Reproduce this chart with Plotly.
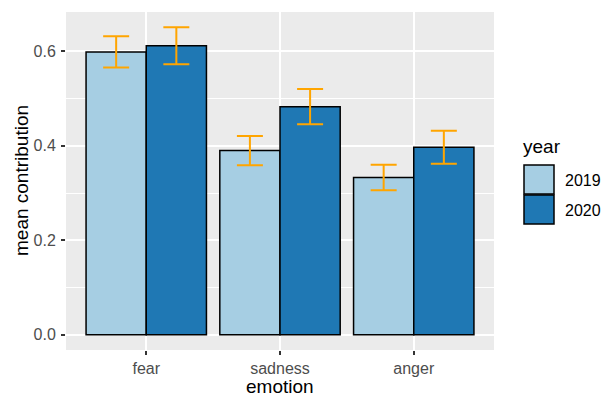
import plotly.graph_objects as go

# Mean contribution of each emotion, by year, with error margins
emotions = ["fear", "sadness", "anger"]
years = ["2019", "2020"]
mean_2019 = [0.599, 0.390, 0.333]
mean_2020 = [0.612, 0.483, 0.397]
err_2019 = [0.033, 0.031, 0.027]
err_2020 = [0.039, 0.0375, 0.035]
year_colors = ["#A6CEE3", "#1F78B4"]
y_ticks = [0.0, 0.2, 0.4, 0.6]

W, H = 602, 396
ML, MR, MT, MB = 66, 108, 12, 46
FONT = "Liberation Sans, Arial, sans-serif"
TICK_SIZE, TITLE_SIZE = 16, 19

fig = go.Figure()
for yr, vals, errs, col in zip(years, [mean_2019, mean_2020], [err_2019, err_2020], year_colors):
    fig.add_trace(go.Bar(
        x=emotions, y=vals, name=yr,
        marker=dict(color=col, line=dict(color="black", width=1.5)),
        error_y=dict(type="data", array=errs, visible=True,
                     color="#FFA500", thickness=2, width=13),
        showlegend=False,
    ))

top = max(max(m + e for m, e in zip(mean_2019, err_2019)),
          max(m + e for m, e in zip(mean_2020, err_2020)))
pad = top * 0.05

fig.update_layout(
    width=W, height=H,
    margin=dict(l=ML, r=MR, t=MT, b=MB, pad=0),
    paper_bgcolor="white", plot_bgcolor="#EBEBEB",
    barmode="group", bargap=0.1, bargroupgap=0,
    font=dict(family=FONT, color="#4D4D4D", size=TICK_SIZE),
)
fig.update_xaxes(
    range=[-0.6, len(emotions) - 0.4],
    automargin=False,
    showgrid=True, gridcolor="white", gridwidth=1.5,
    ticks="outside", ticklen=4, tickwidth=1.5, tickcolor="#333333",
    tickfont=dict(size=TICK_SIZE, color="#4D4D4D"),
    showline=False, zeroline=False,
)
fig.update_yaxes(
    range=[-pad, top + pad],
    automargin=False,
    tickvals=y_ticks, tickformat=".1f",
    showgrid=True, gridcolor="white", gridwidth=1.5,
    minor=dict(tickvals=[0.1, 0.3, 0.5], showgrid=True, gridcolor="white", gridwidth=0.7),
    ticks="outside", ticklen=4, tickwidth=1.5, tickcolor="#333333",
    ticklabelstandoff=2,
    tickfont=dict(size=TICK_SIZE, color="#4D4D4D"),
    showline=False, zeroline=False,
)

# Axis titles and legend placed in pixel-based paper coordinates
pw, ph = W - ML - MR, H - MT - MB
def px(x):
    return (x - ML) / pw
def py(y):
    return 1 - (y - MT) / ph

fig.add_annotation(x=0.5, y=py(386.5), xref="paper", yref="paper",
                   text="emotion", showarrow=False, xanchor="center", yanchor="middle",
                   font=dict(size=TITLE_SIZE, color="black", family=FONT))
fig.add_annotation(x=px(21), y=0.5, xref="paper", yref="paper",
                   text="mean contribution", showarrow=False, textangle=-90,
                   xanchor="center", yanchor="middle",
                   font=dict(size=TITLE_SIZE, color="black", family=FONT))

fig.add_annotation(x=px(521), y=py(146.5), xref="paper", yref="paper",
                   text="year", showarrow=False, xanchor="left", yanchor="middle",
                   font=dict(size=TITLE_SIZE, color="black", family=FONT))
key_top = 165
for i, (yr, col) in enumerate(zip(years, year_colors)):
    y0 = key_top + i * 30
    fig.add_shape(type="rect", xref="paper", yref="paper",
                  x0=px(524), x1=px(554), y0=py(y0), y1=py(y0 + 29),
                  fillcolor=col, line=dict(color="black", width=1.5))
    fig.add_annotation(x=px(563), y=py(y0 + 15), xref="paper", yref="paper",
                       text=yr, showarrow=False, xanchor="left", yanchor="middle",
                       font=dict(size=TICK_SIZE, color="black", family=FONT))

fig.write_html("out.html")
